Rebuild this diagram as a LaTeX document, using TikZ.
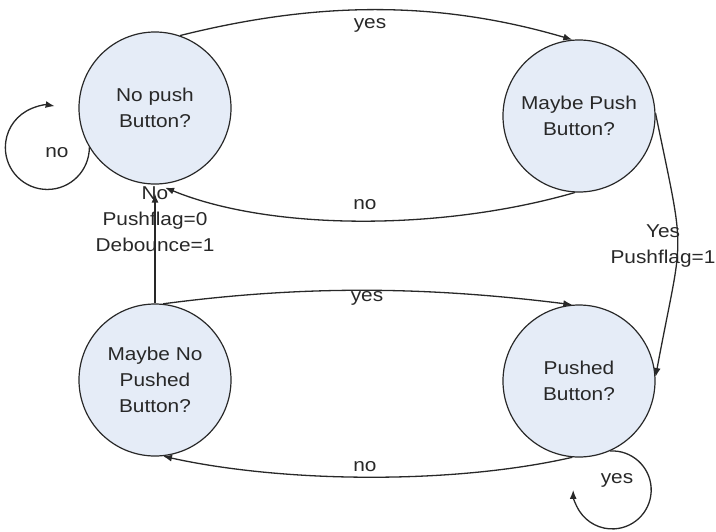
\documentclass[tikz,border=0pt]{standalone}
\usepackage{fontspec}
\setmainfont{Liberation Sans}[FakeStretch=1.12]
\usetikzlibrary{arrows.meta}
\definecolor{statefill}{RGB}{229,236,247}
\definecolor{inkc}{RGB}{40,40,40}
\tikzset{
  state/.style={circle, draw=inkc, line width=1.2pt, fill=statefill, minimum size=152pt, inner sep=0pt, align=center, text=inkc},
  conn/.style={draw=inkc, line width=1.3pt, -{Latex[length=9pt,width=7pt]}},
  lbl/.style={text=inkc, align=center, inner sep=0pt},
}
\begin{document}
\begin{tikzpicture}[x=1pt,y=1pt,font=\fontsize{18.6}{26}\selectfont]
\useasboundingbox (0,0) rectangle (716,-531);

\node[state] (n1) at (155,-108) {No push\\Button?};
\node[state] (n2) at (579,-116) {Maybe Push\\Button?};
\node[state] (n3) at (155,-380) {Maybe No\\Pushed\\Button?};
\node[state] (n4) at (579,-381) {Pushed\\Button?};

% top yes
\draw[conn] (n1.71) .. controls +(136,34) and +(-136,40) .. (n2.95);
\node[lbl] (l1) at (370,-25) {yes};
% top no
\draw[conn, shorten >=8pt] (n2.267) .. controls +(-135,-39) and +(112,-46) .. (n1.272);
\node[lbl] (l2) at (365,-205) {no};
% right yes pushflag
\draw[conn] (n2.2) .. controls +(31,-150) and +(28,150) .. (n4.3);
\node[lbl] (l3) at (663,-246) {Yes\\Pushflag=1};
% vertical
\draw[conn, shorten >=9pt] (n3.north) -- (n1.south);
\node[lbl] (l4) at (155,-219) {No\\Pushflag=0\\Debounce=1};
% bottom yes
\draw[conn] (n3.84) .. controls +(137,18) and +(-152,19) .. (n4.95);
\node[lbl] (l5) at (367,-298) {yes};
% bottom no
\draw[conn] (n4.265) .. controls +(-123,-28) and +(117,-26) .. (n3.276);
\node[lbl] (l6) at (365,-467) {no};
% self loop no
\draw[conn] (n1.211) arc[start angle=0, end angle=-280, radius=42];
\node[lbl] (l7) at (57,-153) {no};
% self loop yes
\draw[conn] (n4.-66) arc[start angle=93, end angle=-180, radius=39];
\node[lbl] (l8) at (617,-480) {yes};
\end{tikzpicture}
\end{document}
